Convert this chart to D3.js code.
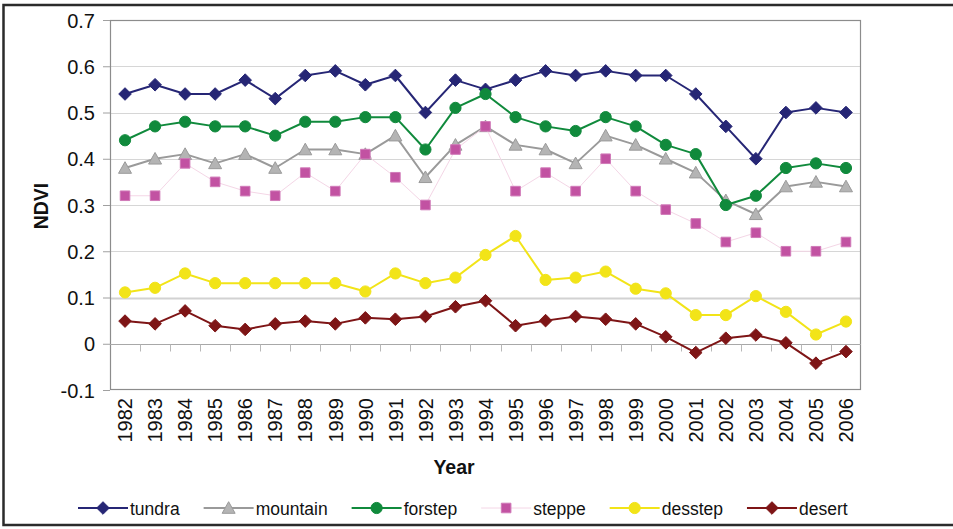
<!DOCTYPE html>
<html>
<head>
<meta charset="utf-8">
<script src="https://cdn.jsdelivr.net/npm/d3@7"></script>
<style>
  html, body { margin: 0; padding: 0; background: #fff; }
  svg { display: block; font-family: "Liberation Sans", Arial, sans-serif; }
</style>
</head>
<body>
<svg id="chart" width="953" height="529"></svg>
<script>
// ---------- DATA ----------
const years = ["1982","1983","1984","1985","1986","1987","1988","1989","1990","1991","1992","1993","1994","1995","1996","1997","1998","1999","2000","2001","2002","2003","2004","2005","2006"];
const tundra   = [0.54,0.56,0.54,0.54,0.57,0.53,0.58,0.59,0.56,0.58,0.50,0.57,0.55,0.57,0.59,0.58,0.59,0.58,0.58,0.54,0.47,0.40,0.50,0.51,0.50];
const mountain = [0.38,0.40,0.41,0.39,0.41,0.38,0.42,0.42,0.41,0.45,0.36,0.43,0.47,0.43,0.42,0.39,0.45,0.43,0.40,0.37,0.31,0.28,0.34,0.35,0.34];
const forstep  = [0.44,0.47,0.48,0.47,0.47,0.45,0.48,0.48,0.49,0.49,0.42,0.51,0.54,0.49,0.47,0.46,0.49,0.47,0.43,0.41,0.30,0.32,0.38,0.39,0.38];
const steppe   = [0.32,0.32,0.39,0.35,0.33,0.32,0.37,0.33,0.41,0.36,0.30,0.42,0.47,0.33,0.37,0.33,0.40,0.33,0.29,0.26,0.22,0.24,0.20,0.20,0.22];
const desstep  = [0.111,0.121,0.152,0.131,0.131,0.131,0.131,0.131,0.113,0.152,0.131,0.143,0.192,0.233,0.138,0.143,0.156,0.119,0.109,0.062,0.062,0.103,0.069,0.020,0.048];
const desert   = [0.049,0.043,0.071,0.039,0.031,0.043,0.049,0.043,0.056,0.053,0.059,0.080,0.093,0.039,0.050,0.059,0.053,0.043,0.015,-0.019,0.012,0.019,0.002,-0.042,-0.017];
const seriesNames = ["tundra","mountain","forstep","steppe","desstep","desert"];
const yTicks = [-0.1, 0, 0.1, 0.2, 0.3, 0.4, 0.5, 0.6, 0.7];
const yTickLabels = ["-0.1","0","0.1","0.2","0.3","0.4","0.5","0.6","0.7"];
const xTitle = "Year";
const yTitle = "NDVI";

// ---------- STYLES ----------
const styles = {
  tundra:   {line: "#262675", lw: 2,   marker: "diamond",  fill: "#262675", stroke: "#262675"},
  mountain: {line: "#9a9a9a", lw: 2,   marker: "triangle", fill: "#b4b4b4", stroke: "#9a9a9a"},
  forstep:  {line: "#108a3c", lw: 2,   marker: "circle",   fill: "#108a3c", stroke: "#108a3c"},
  steppe:   {line: "#f4d6e6", lw: 1,   marker: "square",   fill: "#c252a2", stroke: "#d07ab8"},
  desstep:  {line: "#f2e418", lw: 2,   marker: "circle",   fill: "#f2e418", stroke: "#f2e418"},
  desert:   {line: "#7e1516", lw: 2,   marker: "diamond",  fill: "#7e1516", stroke: "#7e1516"}
};
const valuesByName = {tundra, mountain, forstep, steppe, desstep, desert};
const series = seriesNames.map(n => ({name: n, values: valuesByName[n], style: styles[n]}));

// ---------- LAYOUT ----------
const svg = d3.select("#chart");
const plot = {left: 110, right: 861, top: 20, bottom: 390};

// outer frame
svg.append("rect")
  .attr("x", 3.5).attr("y", 5).attr("width", 970).attr("height", 520)
  .attr("fill", "none").attr("stroke", "#2b2b2b").attr("stroke-width", 2.5);

const x = d3.scaleBand().domain(years).range([plot.left, plot.right]).paddingInner(0).paddingOuter(0);
const cx = d => x(d) + x.bandwidth() / 2;
const y = d3.scaleLinear().domain([-0.1, 0.7]).range([plot.bottom, plot.top]);

// gridlines
svg.append("g").selectAll("line")
  .data(yTicks.filter(t => t > -0.1 + 1e-9 && t < 0.7 - 1e-9 && t !== 0))
  .join("line")
  .attr("x1", plot.left).attr("x2", plot.right)
  .attr("y1", d => Math.round(y(d)) + 0.5).attr("y2", d => Math.round(y(d)) + 0.5)
  .attr("stroke", d => Math.abs(d - 0.1) < 1e-9 ? "#d2d2d2" : "#d6d6d6")
  .attr("stroke-width", d => Math.abs(d - 0.1) < 1e-9 ? 2 : 1);

// plot border
svg.append("rect")
  .attr("x", plot.left + 0.5).attr("y", plot.top + 0.5)
  .attr("width", plot.right - plot.left - 1).attr("height", plot.bottom - plot.top - 1)
  .attr("fill", "none").attr("stroke", "#8c8c8c").attr("stroke-width", 1.2);

// y-axis ticks + labels
const yAxis = d3.axisLeft(y).tickValues(yTicks)
  .tickFormat((d, i) => yTickLabels[i]).tickSize(7).tickPadding(8);
const gy = svg.append("g").attr("transform", `translate(${plot.left},0)`).call(yAxis);
gy.select(".domain").remove();
gy.selectAll(".tick line").attr("stroke", "#a0a0a0");
gy.selectAll(".tick text").attr("font-size", 20).attr("fill", "#111")
  .attr("font-family", "Liberation Sans, Arial, sans-serif").attr("dy", "0.36em");

// zero line (category axis) with tick marks
const zeroY = Math.round(y(0)) + 0.5;
svg.append("line").attr("x1", plot.left).attr("x2", plot.right)
  .attr("y1", zeroY).attr("y2", zeroY).attr("stroke", "#a8a8a8").attr("stroke-width", 1);
svg.append("g").selectAll("line")
  .data(years.slice(1))
  .join("line")
  .attr("x1", d => Math.round(x(d)) + 0.5).attr("x2", d => Math.round(x(d)) + 0.5)
  .attr("y1", zeroY).attr("y2", zeroY + 7)
  .attr("stroke", "#b8b8b8").attr("stroke-width", 1);

// x tick labels (rotated)
svg.append("g").selectAll("text")
  .data(years)
  .join("text")
  .attr("transform", d => `translate(${cx(d)},398) rotate(-90)`)
  .attr("text-anchor", "end").attr("dy", "0.36em")
  .attr("font-size", 20).attr("fill", "#111")
  .text(d => d);

// axis titles
svg.append("text").attr("x", 454).attr("y", 474).attr("text-anchor", "middle")
  .attr("font-size", 19.5).attr("font-weight", "bold").attr("fill", "#111").text(xTitle);
svg.append("text").attr("transform", "translate(48,206) rotate(-90)").attr("text-anchor", "middle")
  .attr("font-size", 19.5).attr("font-weight", "bold").attr("fill", "#111").text(yTitle);

// ---------- MARKERS ----------
function markerPath(type) {
  const p = d3.path();
  if (type === "diamond") {
    const h = 6.3;
    p.moveTo(0, -h); p.lineTo(h, 0); p.lineTo(0, h); p.lineTo(-h, 0); p.closePath();
  } else if (type === "triangle") {
    const w = 6.5, t = 6.3, b = 5.3;
    p.moveTo(0, -t); p.lineTo(w, b); p.lineTo(-w, b); p.closePath();
  } else if (type === "square") {
    const s = 4.8;
    p.rect(-s, -s, 2 * s, 2 * s);
  } else {
    p.arc(0, 0, 5.6, 0, 2 * Math.PI);
  }
  return p.toString();
}

const line = d3.line().x((d, i) => cx(years[i])).y(d => y(d));

series.forEach(s => {
  const g = svg.append("g");
  g.append("path").datum(s.values)
    .attr("d", line).attr("fill", "none")
    .attr("stroke", s.style.line).attr("stroke-width", s.style.lw)
    .attr("stroke-linejoin", "round");
  g.selectAll("path.m").data(s.values).join("path").attr("class", "m")
    .attr("transform", (d, i) => `translate(${cx(years[i])},${y(d)})`)
    .attr("d", markerPath(s.style.marker))
    .attr("fill", s.style.fill).attr("stroke", s.style.stroke).attr("stroke-width", 1);
});

// ---------- LEGEND ----------
const legY = 508;
let lx = 78;
series.forEach(s => {
  const g = svg.append("g");
  g.append("line").attr("x1", lx).attr("x2", lx + 50).attr("y1", legY).attr("y2", legY)
    .attr("stroke", s.style.line).attr("stroke-width", s.style.lw);
  g.append("path").attr("transform", `translate(${lx + 25},${legY})`)
    .attr("d", markerPath(s.style.marker))
    .attr("fill", s.style.fill).attr("stroke", s.style.stroke).attr("stroke-width", 1);
  const t = g.append("text").attr("x", lx + 52).attr("y", legY + 6.5)
    .attr("font-size", 17.5).attr("fill", "#111").text(s.name);
  lx = lx + 52 + t.node().getComputedTextLength() + 24;
});
</script>
</body>
</html>
